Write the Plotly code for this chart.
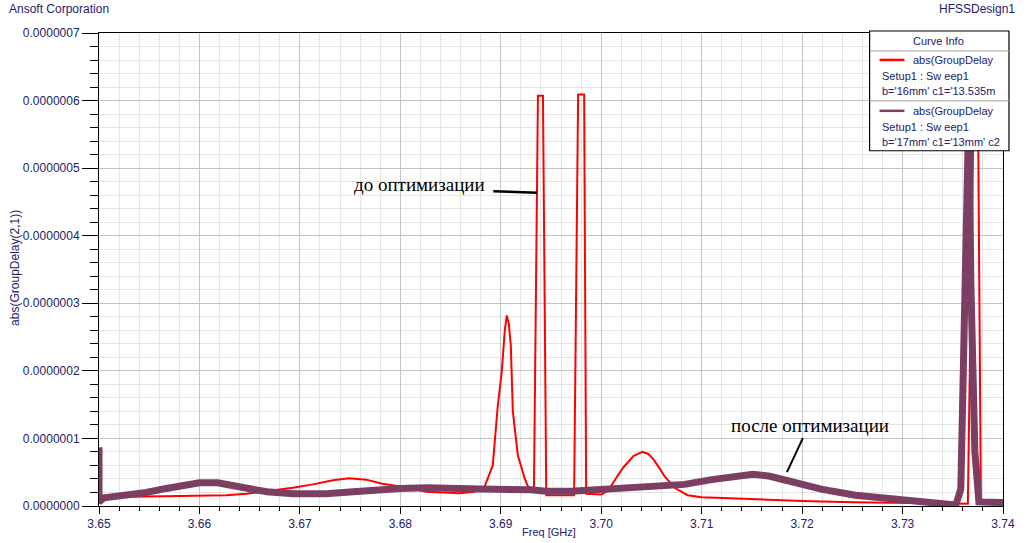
import plotly.graph_objects as go

# ---------------- data ----------------
freq_before = [3.6500, 3.6544, 3.6600, 3.6627, 3.6647, 3.6674, 3.6693, 3.6713, 3.6733, 3.6749,
               3.6766, 3.6782, 3.6800, 3.6826, 3.6859, 3.6874, 3.6884, 3.6892, 3.6897, 3.6901,
               3.6904, 3.6906, 3.6908, 3.6910, 3.6912, 3.6917, 3.6924, 3.6927, 3.6933, 3.6937,
               3.6942, 3.69453, 3.6973, 3.6977, 3.6983, 3.6985, 3.6995, 3.7000, 3.7006, 3.7010,
               3.7016, 3.7022, 3.7032, 3.7041, 3.7047, 3.7052, 3.7058, 3.7063, 3.7073, 3.7086,
               3.7100, 3.7150, 3.7200, 3.7250, 3.7300, 3.7350, 3.7365, 3.7371, 3.7375, 3.7378,
               3.7400]
gd_before = [1.3e-8, 1.4e-8, 1.5e-8, 1.6e-8, 1.8e-8, 2.3e-8, 2.7e-8, 3.2e-8, 3.8e-8, 4.1e-8,
             3.9e-8, 3.3e-8, 2.9e-8, 2.1e-8, 1.9e-8, 2.1e-8, 2.9e-8, 6.0e-8, 1.48e-7, 1.99e-7,
             2.6e-7, 2.82e-7, 2.7e-7, 2.37e-7, 1.40e-7, 7.5e-8, 4.0e-8, 2.9e-8, 2.2e-8, 6.07e-7,
             6.07e-7, 1.6e-8, 1.6e-8, 6.09e-7, 6.09e-7, 1.8e-8, 1.7e-8, 1.7e-8, 2.2e-8, 3.0e-8,
             4.4e-8, 5.7e-8, 7.4e-8, 8.0e-8, 7.7e-8, 6.9e-8, 5.6e-8, 4.4e-8, 2.7e-8, 1.6e-8,
             1.3e-8, 1.0e-8, 7.4e-9, 5.5e-9, 4.4e-9, 3.5e-9, 3.5e-9, 6.1e-7, 6.1e-7, 5.0e-9,
             5.0e-9]

freq_after = [3.6500, 3.6500, 3.6505, 3.6527, 3.6547, 3.6567, 3.6588, 3.6600, 3.6618, 3.6633,
              3.6650, 3.6667, 3.6693, 3.6726, 3.6753, 3.6776, 3.6800, 3.6826, 3.6859, 3.6879,
              3.6930, 3.6945, 3.6970, 3.7000, 3.7049, 3.7083, 3.7110, 3.7134, 3.7151, 3.7168,
              3.7192, 3.7219, 3.7253, 3.7287, 3.7321, 3.7345, 3.7353, 3.7358, 3.7362, 3.7365,
              3.7366, 3.7368, 3.7372, 3.7376, 3.7400]
gd_after = [8.7e-8, 6.0e-9, 1.2e-8, 1.6e-8, 2.0e-8, 2.6e-8, 3.2e-8, 3.45e-8, 3.45e-8, 3.0e-8,
            2.5e-8, 2.1e-8, 1.8e-8, 1.8e-8, 2.1e-8, 2.4e-8, 2.6e-8, 2.7e-8, 2.7e-8, 2.5e-8,
            2.4e-8, 2.2e-8, 2.2e-8, 2.5e-8, 2.8e-8, 3.2e-8, 3.9e-8, 4.5e-8, 4.7e-8, 4.4e-8,
            3.5e-8, 2.5e-8, 1.6e-8, 1.1e-8, 8.0e-9, 5.0e-9, 1.5e-9, 2.5e-8, 2.8e-7, 5.3e-7,
            5.9e-7, 3.3e-7, 8.0e-8, 6.0e-9, 5.0e-9]

legend_entries = [
    ["abs(GroupDelay", "Setup1 : Sw eep1", "b='16mm' c1='13.535m"],
    ["abs(GroupDelay", "Setup1 : Sw eep1", "b='17mm' c1='13mm' c2"],
]
label_before = "до оптимизации"
label_after = "после оптимизации"

# ---------------- styling ----------------
W, H = 1027, 543
L, R, T, B = 99, 20, 33, 36
PW, PH = W - L - R, H - T - B
RED = "#ff0000"
PURPLE = "#7c3f63"
TXT = "#24206a"
SANS = "Liberation Sans, Arial, sans-serif"
SERIF = "Liberation Serif, Times New Roman, serif"


def px(x):
    return (x - L) / PW


def py(y):
    return (H - B - y) / PH


fig = go.Figure()
fig.add_trace(go.Scatter(x=freq_before, y=gd_before, mode="lines",
                         line=dict(color=RED, width=2), name="before"))
fig.add_trace(go.Scatter(x=freq_after, y=gd_after, mode="lines",
                         line=dict(color=PURPLE, width=7), name="after"))

shapes = []
annotations = []

# white label boxes
shapes.append(dict(type="rect", xref="paper", yref="paper", x0=px(355), x1=px(503),
                   y0=py(225), y1=py(171), fillcolor="white", line=dict(width=0), layer="between"))
shapes.append(dict(type="rect", xref="paper", yref="paper", x0=px(735), x1=px(902),
                   y0=py(470), y1=py(403), fillcolor="white", line=dict(width=0), layer="between"))
# pointer lines
shapes.append(dict(type="line", xref="paper", yref="paper", x0=px(495), y0=py(191.5),
                   x1=px(539), y1=py(193), line=dict(color="black", width=2.5)))
shapes.append(dict(type="line", xref="paper", yref="paper", x0=px(806), y0=py(439),
                   x1=px(790), y1=py(473), line=dict(color="black", width=2)))
annotations.append(dict(text=label_before, xref="paper", yref="paper", x=px(421), y=py(185),
                        xanchor="center", yanchor="middle", showarrow=False,
                        font=dict(family=SERIF, size=19, color="black")))
annotations.append(dict(text=label_after, xref="paper", yref="paper", x=px(813), y=py(426),
                        xanchor="center", yanchor="middle", showarrow=False,
                        font=dict(family=SERIF, size=19, color="black")))

# legend box ("Curve Info")
shapes.append(dict(type="rect", xref="paper", yref="paper", x0=px(873), x1=px(1013),
                   y0=py(151), y1=py(31), fillcolor="white", line=dict(color="black", width=1.2),
                   layer="above"))
for yy in (51, 101):
    shapes.append(dict(type="line", xref="paper", yref="paper", x0=px(873), x1=px(1013),
                       y0=py(yy), y1=py(yy), line=dict(color="#a0a0a0", width=1), layer="above"))
annotations.append(dict(text="Curve Info", xref="paper", yref="paper", x=px(942), y=py(41),
                        xanchor="center", yanchor="middle", showarrow=False,
                        font=dict(family=SANS, size=11, color=TXT)))
for i, (entry, col) in enumerate(zip(legend_entries, (RED, PURPLE))):
    base = 60 + 51 * i
    shapes.append(dict(type="line", xref="paper", yref="paper", x0=px(883), x1=px(908),
                       y0=py(base), y1=py(base), line=dict(color=col, width=2.5), layer="above"))
    annotations.append(dict(text=entry[0], xref="paper", yref="paper", x=px(915), y=py(base),
                            xanchor="left", yanchor="middle", showarrow=False,
                            font=dict(family=SANS, size=11, color=TXT)))
    annotations.append(dict(text=entry[1], xref="paper", yref="paper", x=px(883), y=py(base + 16),
                            xanchor="left", yanchor="middle", showarrow=False,
                            font=dict(family=SANS, size=11, color=TXT)))
    annotations.append(dict(text=entry[2], xref="paper", yref="paper", x=px(883), y=py(base + 31),
                            xanchor="left", yanchor="middle", showarrow=False,
                            font=dict(family=SANS, size=11, color=TXT)))

# corner texts and axis titles
annotations.append(dict(text="Ansoft Corporation", xref="paper", yref="paper", x=px(7), y=py(9),
                        xanchor="left", yanchor="middle", showarrow=False,
                        font=dict(family=SANS, size=12, color=TXT)))
annotations.append(dict(text="HFSSDesign1", xref="paper", yref="paper", x=px(1021), y=py(9),
                        xanchor="right", yanchor="middle", showarrow=False,
                        font=dict(family=SANS, size=12, color=TXT)))
annotations.append(dict(text="Freq [GHz]", xref="paper", yref="paper", x=px(551), y=py(533),
                        xanchor="center", yanchor="middle", showarrow=False,
                        font=dict(family=SANS, size=11, color=TXT)))
annotations.append(dict(text="abs(GroupDelay(2,1))", xref="paper", yref="paper", x=px(14), y=py(268),
                        xanchor="center", yanchor="middle", showarrow=False, textangle=-90,
                        font=dict(family=SANS, size=12, color=TXT)))

fig.update_layout(
    width=W, height=H,
    margin=dict(l=L, r=R, t=T, b=B, pad=0),
    paper_bgcolor="white", plot_bgcolor="white",
    showlegend=False,
    shapes=shapes, annotations=annotations,
    font=dict(family=SANS, size=12, color=TXT),
)
fig.update_xaxes(range=[3.65, 3.74], tick0=3.65, dtick=0.01, tickformat=".2f",
                 ticks="outside", ticklen=7, tickcolor="black", tickwidth=1,
                 showline=True, linecolor="black", linewidth=1, mirror=True,
                 showgrid=True, gridcolor="#c4c4c4", gridwidth=1, zeroline=False,
                 tickfont=dict(family=SANS, size=12, color=TXT),
                 minor=dict(dtick=0.002, ticks="outside", ticklen=4, tickcolor="black",
                            showgrid=True, gridcolor="#e4e4e4", gridwidth=1))
fig.update_yaxes(range=[0, 7e-7], tick0=0, dtick=1e-7, tickformat=".7f",
                 ticks="outside", ticklen=16, tickcolor="black", tickwidth=1,
                 showline=True, linecolor="black", linewidth=1, mirror=True,
                 showgrid=True, gridcolor="#c4c4c4", gridwidth=1, zeroline=False,
                 tickfont=dict(family=SANS, size=12, color=TXT),
                 minor=dict(dtick=2e-8, ticks="outside", ticklen=8, tickcolor="black",
                            showgrid=True, gridcolor="#e4e4e4", gridwidth=1))

fig.write_html("out.html", config={"displayModeBar": False},
               post_script="document.body.style.margin='0px';document.body.style.padding='0px';")
